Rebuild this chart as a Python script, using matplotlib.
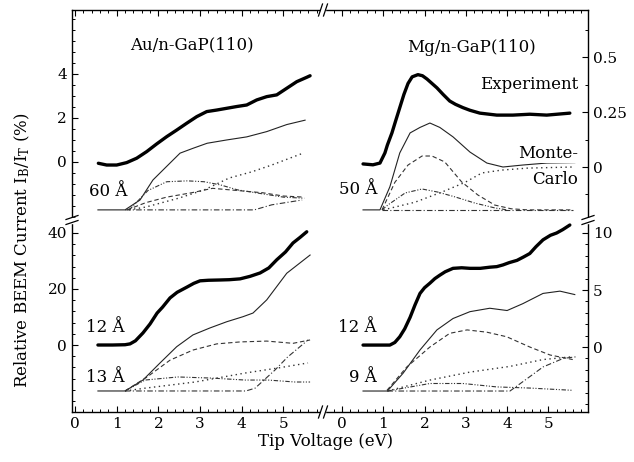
import matplotlib
matplotlib.use('Agg')
import matplotlib.pyplot as plt
from matplotlib.lines import Line2D
from matplotlib.patches import Rectangle
from matplotlib.ticker import MultipleLocator, FixedLocator

plt.rcParams['font.family'] = 'DejaVu Serif'
plt.rcParams['mathtext.fontset'] = 'dejavuserif'

# ---- Au/n-GaP(110), 60 A (top left, %)
au60_exp_v = [0.56, 0.76, 1.0, 1.24, 1.48, 1.72, 1.96, 2.2, 2.44, 2.68, 2.92, 3.16, 3.4, 3.64,
              3.88, 4.12, 4.36, 4.6, 4.84, 5.08, 5.32, 5.56, 5.64]
au60_exp_i = [-0.06, -0.14, -0.14, -0.03, 0.17, 0.47, 0.82, 1.15, 1.45, 1.76, 2.06, 2.29, 2.36, 2.44,
              2.52, 2.59, 2.82, 2.97, 3.05, 3.35, 3.65, 3.85, 3.92]
au60_mc_v = [0.55, 1.2, 1.56, 1.87, 2.2, 2.52, 2.83, 3.17, 3.64, 4.12, 4.6, 5.08, 5.52]
au60_mc_i = [-2.18, -2.18, -1.73, -0.82, -0.2, 0.4, 0.62, 0.85, 1.0, 1.14, 1.38, 1.7, 1.9]
au60_dash_v = [1.25, 1.7, 2.2, 2.8, 3.3, 3.9, 4.5, 5.0, 5.5]
au60_dash_i = [-2.18, -1.85, -1.6, -1.4, -1.2, -1.3, -1.4, -1.55, -1.6]
au60_hump_v = [1.3, 1.75, 2.2, 2.7, 3.1, 3.5, 3.9, 4.5, 5.0, 5.5]
au60_hump_i = [-2.18, -1.3, -0.9, -0.86, -0.9, -1.05, -1.27, -1.45, -1.6, -1.65]
au60_dot_v = [1.3, 1.7, 2.5, 3.1, 3.7, 4.24, 4.72, 5.5]
au60_dot_i = [-2.18, -2.05, -1.64, -1.27, -0.73, -0.45, -0.14, 0.42]
au60_late_v = [1.2, 4.3, 4.72, 5.45]
au60_late_i = [-2.18, -2.18, -1.95, -1.73]

# ---- Mg/n-GaP(110), 50 A (top right, %)
mg50_exp_v = [0.51, 0.75, 0.92, 1.04, 1.1, 1.21, 1.3, 1.4, 1.5, 1.6, 1.7, 1.84, 1.95, 2.06, 2.18,
              2.3, 2.45, 2.61, 2.75, 2.93, 3.1, 3.34, 3.75, 4.14, 4.55, 4.96, 5.52]
mg50_exp_i = [0.014, 0.01, 0.018, 0.064, 0.1, 0.155, 0.21, 0.27, 0.33, 0.38, 0.41, 0.42, 0.415, 0.40, 0.38,
              0.36, 0.33, 0.30, 0.285, 0.27, 0.258, 0.245, 0.236, 0.236, 0.24, 0.236, 0.245]
mg50_mc_v = [0.51, 0.92, 1.16, 1.4, 1.65, 1.89, 2.13, 2.37, 2.69, 3.1, 3.51, 3.9, 4.38, 4.96, 5.64]
mg50_mc_i = [-0.195, -0.195, -0.09, 0.064, 0.155, 0.18, 0.2, 0.18, 0.137, 0.068, 0.018, 0.0, 0.009, 0.018, 0.02]
mg50_dash_v = [0.97, 1.28, 1.6, 1.94, 2.18, 2.49, 2.9, 3.29, 3.7, 4.1, 4.5, 5.6]
mg50_dash_i = [-0.195, -0.07, 0.009, 0.05, 0.05, 0.023, -0.068, -0.127, -0.173, -0.19, -0.195, -0.195]
mg50_hump_v = [0.97, 1.11, 1.53, 1.94, 2.32, 2.74, 3.22, 3.7, 4.0]
mg50_hump_i = [-0.195, -0.173, -0.118, -0.1, -0.114, -0.136, -0.164, -0.186, -0.195]
mg50_dot_v = [1.0, 1.77, 2.42, 2.98, 3.39, 3.87, 4.5, 5.6]
mg50_dot_i = [-0.195, -0.16, -0.114, -0.07, -0.027, -0.014, -0.005, 0.0]
mg50_late_v = [0.97, 5.6]
mg50_late_i = [-0.195, -0.195]

# ---- Au/n-GaP(110), 12 / 13 A (bottom left, %)
au12_exp_v = [0.55, 0.9, 1.2, 1.32, 1.45, 1.63, 1.8, 1.97, 2.1, 2.28, 2.45, 2.69, 2.85, 3.0, 3.2,
              3.48, 3.7, 3.96, 4.2, 4.44, 4.65, 4.84, 5.05, 5.23, 5.4, 5.56]
au12_exp_i = [0.0, 0.0, 0.1, 0.4, 1.5, 4.3, 7.5, 11.4, 13.5, 16.8, 18.8, 20.7, 22.0, 22.9, 23.1,
              23.2, 23.3, 23.6, 24.5, 25.7, 27.5, 30.4, 33.2, 36.4, 38.4, 40.4]
au13_mc_v = [0.55, 1.2, 1.63, 2.04, 2.44, 2.83, 3.24, 3.64, 4.03, 4.27, 4.6, 5.08, 5.64]
au13_mc_i = [-16.4, -16.4, -12.5, -6.4, -0.6, 3.6, 6.1, 8.3, 10.1, 11.4, 16.1, 25.6, 32.1]
au13_dash_v = [1.2, 1.73, 2.28, 2.83, 3.4, 3.96, 4.6, 5.23, 5.64]
au13_dash_i = [-16.4, -11.4, -5.4, -1.8, 0.4, 1.1, 1.4, 0.6, 1.8]
au13_hump_v = [1.2, 1.68, 2.47, 3.28, 4.08, 4.63, 5.28, 5.64]
au13_hump_i = [-16.4, -12.5, -11.4, -11.8, -12.5, -12.5, -13.2, -13.2]
au13_dot_v = [1.2, 1.68, 2.88, 4.08, 4.87, 5.59]
au13_dot_i = [-16.4, -15.4, -13.2, -10.0, -8.2, -6.4]
au13_late_v = [1.2, 4.1, 4.32, 4.8, 5.1, 5.59]
au13_late_i = [-16.4, -16.4, -15.4, -8.9, -4.3, 1.8]

# ---- Mg/n-GaP(110), 12 / 9 A (bottom right, %)
mg12_exp_v = [0.51, 0.8, 1.16, 1.28, 1.4, 1.52, 1.65, 1.77, 1.89, 2.0, 2.13, 2.25, 2.37, 2.5, 2.69,
              2.9, 3.1, 3.35, 3.58, 3.75, 3.9, 4.05, 4.24, 4.4, 4.55, 4.7, 4.87, 5.05, 5.2, 5.35, 5.52]
mg12_exp_i = [0.17, 0.17, 0.17, 0.4, 0.9, 1.6, 2.6, 3.7, 4.7, 5.2, 5.6, 6.0, 6.3, 6.6, 6.9,
              6.95, 6.9, 6.9, 7.0, 7.05, 7.2, 7.4, 7.6, 7.9, 8.2, 8.8, 9.4, 9.8, 10.0, 10.3, 10.7]
mg9_mc_v = [0.51, 1.1, 1.48, 1.89, 2.3, 2.69, 3.1, 3.58, 4.0, 4.38, 4.87, 5.28, 5.64]
mg9_mc_i = [-3.86, -3.86, -2.3, -0.26, 1.5, 2.5, 3.1, 3.4, 3.2, 3.8, 4.7, 4.9, 4.6]
mg9_dash_v = [1.09, 1.57, 2.13, 2.61, 3.03, 3.51, 3.99, 4.55, 5.04, 5.59]
mg9_dash_i = [-3.8, -1.75, 0.0, 1.2, 1.5, 1.3, 0.9, 0.0, -0.7, -1.1]
mg9_hump_v = [1.1, 2.13, 2.93, 3.75, 4.55, 5.59]
mg9_hump_i = [-3.86, -3.2, -3.2, -3.5, -3.6, -3.8]
mg9_dot_v = [1.1, 2.13, 3.1, 4.07, 4.87, 5.59]
mg9_dot_i = [-3.86, -2.9, -2.2, -1.7, -1.1, -0.85]
mg9_late_v = [1.1, 4.07, 4.55, 4.87, 5.36, 5.69]
mg9_late_i = [-3.86, -3.86, -2.6, -1.75, -1.0, -0.85]

W, H = 634.0, 462.0
fig = plt.figure(figsize=(W / 100, H / 100), dpi=100)


def fx(px):
    return px / W


def fy(py):
    return 1 - py / H


xa, xm, xb = 72, 323, 588
ya, ym, yb = 10, 220, 412

ax_tl = fig.add_axes([fx(xa), fy(ym), fx(xm) - fx(xa), fy(ya) - fy(ym)])
ax_tr = fig.add_axes([fx(xm), fy(ym), fx(xb) - fx(xm), fy(ya) - fy(ym)])
ax_bl = fig.add_axes([fx(xa), fy(yb), fx(xm) - fx(xa), fy(ym) - fy(yb)])
ax_br = fig.add_axes([fx(xm), fy(yb), fx(xb) - fx(xm), fy(ym) - fy(yb)])

ax_tl.set_xlim(-0.072, 5.95)
ax_bl.set_xlim(-0.072, 5.95)
ax_tr.set_xlim(-0.46, 5.96)
ax_br.set_xlim(-0.46, 5.96)
ax_tl.set_ylim(-2.64, 6.91)
ax_tr.set_ylim(-0.241, 0.714)
ax_bl.set_ylim(-23.9, 44.6)
ax_br.set_ylim(-5.7, 11.14)

for ax in [ax_tl, ax_tr, ax_bl, ax_br]:
    for s in ax.spines.values():
        s.set_visible(False)
        s.set_linewidth(1.0)
    ax.xaxis.set_major_locator(MultipleLocator(1))
    ax.xaxis.set_minor_locator(MultipleLocator(0.2))
    ax.tick_params(which='both', direction='in', labelsize=11,
                   top=False, bottom=False, left=False, right=False,
                   labelbottom=False, labelleft=False, labelright=False)
    ax.tick_params(which='major', length=4, width=0.8)
    ax.tick_params(which='minor', length=2, width=0.7)
    ax.patch.set_visible(False)

ax_tl.spines['left'].set_visible(True)
ax_tl.spines['top'].set_visible(True)
ax_tl.tick_params(which='both', left=True, top=True, labelleft=True)
ax_tl.yaxis.set_major_locator(FixedLocator([0, 2, 4]))
ax_tl.yaxis.set_minor_locator(MultipleLocator(0.5))
ax_tl.set_yticklabels(['0', '2', '4'])

ax_tr.spines['right'].set_visible(True)
ax_tr.spines['top'].set_visible(True)
ax_tr.tick_params(which='both', right=True, top=True, labelright=True)
ax_tr.yaxis.set_major_locator(FixedLocator([0, 0.25, 0.5]))
ax_tr.yaxis.set_minor_locator(MultipleLocator(0.125))
ax_tr.set_yticklabels(['0', '0.25', '0.5'])

ax_bl.spines['left'].set_visible(True)
ax_bl.spines['bottom'].set_visible(True)
ax_bl.tick_params(which='both', left=True, bottom=True, labelleft=True, labelbottom=True)
ax_bl.yaxis.set_major_locator(FixedLocator([0, 20, 40]))
ax_bl.yaxis.set_minor_locator(MultipleLocator(4))
ax_bl.set_yticklabels(['0', '20', '40'])
ax_bl.set_xticks([0, 1, 2, 3, 4, 5])

ax_br.spines['right'].set_visible(True)
ax_br.spines['bottom'].set_visible(True)
ax_br.tick_params(which='both', right=True, bottom=True, labelright=True, labelbottom=True)
ax_br.yaxis.set_major_locator(FixedLocator([0, 5, 10]))
ax_br.yaxis.set_minor_locator(MultipleLocator(1))
ax_br.set_yticklabels(['0', '5', '10'])
ax_br.set_xticks([0, 1, 2, 3, 4, 5])

# line styles of the curves
st_exp = dict(color='black', lw=2.4, solid_capstyle='round', solid_joinstyle='round')
st_mc = dict(color='#222222', lw=0.8)
st_dash = dict(color='#333333', lw=0.8, ls=(0, (4, 2.5)))
st_hump = dict(color='#333333', lw=0.8, ls=(0, (4, 1.5, 1, 1.5, 1, 1.5)))
st_dot = dict(color='#333333', lw=1.0, ls=(0, (1, 2.5)))
st_late = dict(color='#333333', lw=0.8, ls=(0, (5, 2, 1, 2)))

ax_tl.plot(au60_exp_v, au60_exp_i, **st_exp)
ax_tl.plot(au60_mc_v, au60_mc_i, **st_mc)
ax_tl.plot(au60_dash_v, au60_dash_i, **st_dash)
ax_tl.plot(au60_hump_v, au60_hump_i, **st_hump)
ax_tl.plot(au60_dot_v, au60_dot_i, **st_dot)
ax_tl.plot(au60_late_v, au60_late_i, **st_late)

ax_tr.plot(mg50_exp_v, mg50_exp_i, **st_exp)
ax_tr.plot(mg50_mc_v, mg50_mc_i, **st_mc)
ax_tr.plot(mg50_dash_v, mg50_dash_i, **st_dash)
ax_tr.plot(mg50_hump_v, mg50_hump_i, **st_hump)
ax_tr.plot(mg50_dot_v, mg50_dot_i, **st_dot)
ax_tr.plot(mg50_late_v, mg50_late_i, **st_late)

ax_bl.plot(au12_exp_v, au12_exp_i, **st_exp)
ax_bl.plot(au13_mc_v, au13_mc_i, **st_mc)
ax_bl.plot(au13_dash_v, au13_dash_i, **st_dash)
ax_bl.plot(au13_hump_v, au13_hump_i, **st_hump)
ax_bl.plot(au13_dot_v, au13_dot_i, **st_dot)
ax_bl.plot(au13_late_v, au13_late_i, **st_late)

ax_br.plot(mg12_exp_v, mg12_exp_i, **st_exp)
ax_br.plot(mg9_mc_v, mg9_mc_i, **st_mc)
ax_br.plot(mg9_dash_v, mg9_dash_i, **st_dash)
ax_br.plot(mg9_hump_v, mg9_hump_i, **st_hump)
ax_br.plot(mg9_dot_v, mg9_dot_i, **st_dot)
ax_br.plot(mg9_late_v, mg9_late_i, **st_late)


# break marks on the frame
def brk(px, py, vertical_spine):
    if vertical_spine:
        fig.add_artist(Rectangle((fx(px - 5), fy(py + 2.5)), fx(10), 5 / H,
                                 color='white', zorder=10))
        for d in (-2.5, 2.5):
            fig.add_artist(Line2D([fx(px - 6), fx(px + 6)], [fy(py + d + 2), fy(py + d - 2)],
                                  color='black', lw=0.9, zorder=11))
    else:
        fig.add_artist(Rectangle((fx(px - 2.5), fy(py + 5)), fx(5), 10 / H,
                                 color='white', zorder=10))
        for d in (-2.5, 2.5):
            fig.add_artist(Line2D([fx(px + d - 2), fx(px + d + 2)], [fy(py + 6), fy(py - 6)],
                                  color='black', lw=0.9, zorder=11))


brk(xa, ym, True)
brk(xb, ym, True)
brk(xm, ya, False)
brk(xm, yb, False)

# panel labels
fs = 12
fig.text(fx(192), fy(45), 'Au/n-GaP(110)', ha='center', va='center', fontsize=fs)
fig.text(fx(471), fy(47), 'Mg/n-GaP(110)', ha='center', va='center', fontsize=fs)
fig.text(fx(578), fy(85), 'Experiment', ha='right', va='center', fontsize=fs)
fig.text(fx(578), fy(153), 'Monte-', ha='right', va='center', fontsize=fs,
         bbox=dict(facecolor='white', edgecolor='none', pad=1))
fig.text(fx(578), fy(180), 'Carlo', ha='right', va='center', fontsize=fs,
         bbox=dict(facecolor='white', edgecolor='none', pad=1))
fig.text(fx(127), fy(192), '60 Å', ha='right', va='center', fontsize=fs)
fig.text(fx(377), fy(190), '50 Å', ha='right', va='center', fontsize=fs)
fig.text(fx(125), fy(327), '12 Å', ha='right', va='center', fontsize=fs)
fig.text(fx(125), fy(377), '13 Å', ha='right', va='center', fontsize=fs)
fig.text(fx(377), fy(327), '12 Å', ha='right', va='center', fontsize=fs)
fig.text(fx(377), fy(377), '9 Å', ha='right', va='center', fontsize=fs)

fig.text(fx(22), fy(250), r'Relative BEEM Current I$_\mathrm{B}$/I$_\mathrm{T}$ (%)',
         rotation=90, ha='center', va='center', fontsize=fs)
fig.text(fx(326), fy(441), 'Tip Voltage (eV)', ha='center', va='center', fontsize=fs)

fig.savefig('out.png', dpi=100)
